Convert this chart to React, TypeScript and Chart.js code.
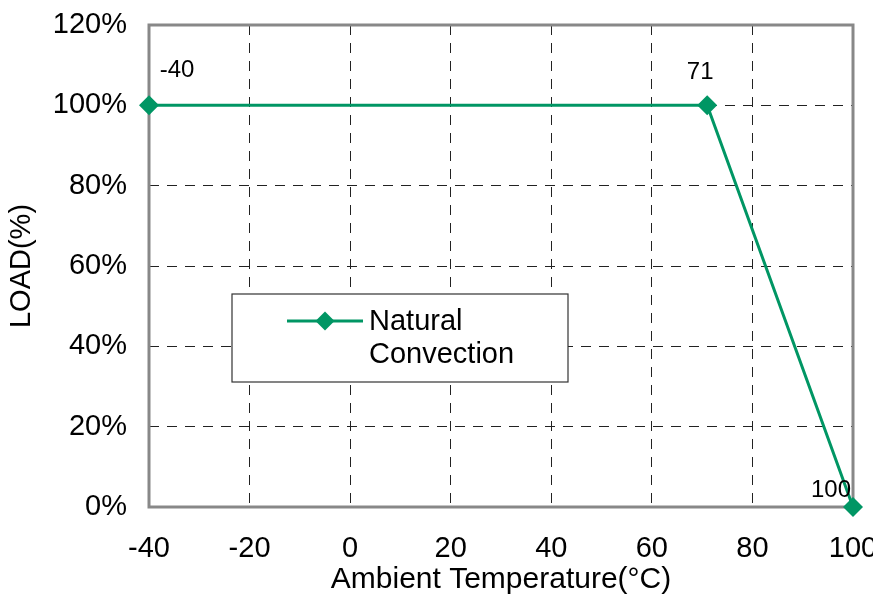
import React, { useEffect, useRef } from "react";
import { Chart, registerables } from "chart.js";

Chart.register(...registerables);

const temperatures = [-40, 71, 100];
const loads = [100, 100, 0];
const pointLabels = ["-40", "71", "100"];
const seriesName = ["Natural", "Convection"];
const xTickValues = [-40, -20, 0, 20, 40, 60, 80, 100];
const yTickValues = [0, 20, 40, 60, 80, 100, 120];

const GREEN = "#009664";
const FONT = "'Liberation Sans', Arial, sans-serif";

const labelOffsets = [
  { dx: 28, dy: -35 },
  { dx: -7, dy: -33 },
  { dx: -22, dy: -17 },
];

const framePlugin = {
  id: "frame",
  beforeDatasetsDraw(chart: any) {
    const { ctx, chartArea } = chart;
    ctx.save();
    ctx.strokeStyle = "#888888";
    ctx.lineWidth = 3;
    ctx.strokeRect(chartArea.left, chartArea.top, chartArea.right - chartArea.left, chartArea.bottom - chartArea.top);
    ctx.restore();
  },
};

const overlayPlugin = {
  id: "overlay",
  afterDatasetsDraw(chart: any) {
    const { ctx } = chart;
    const xs = chart.scales.x;
    const ys = chart.scales.y;
    ctx.save();
    ctx.font = `24px ${FONT}`;
    ctx.fillStyle = "#000";
    ctx.textAlign = "center";
    ctx.textBaseline = "middle";
    temperatures.forEach((t, i) => {
      const px = xs.getPixelForValue(t);
      const py = ys.getPixelForValue(loads[i]);
      ctx.fillText(pointLabels[i], px + labelOffsets[i].dx, py + labelOffsets[i].dy);
    });
    const bx = 232, by = 294, bw = 336, bh = 88;
    ctx.fillStyle = "#fff";
    ctx.fillRect(bx, by, bw, bh);
    ctx.strokeStyle = "#333";
    ctx.lineWidth = 1.2;
    ctx.strokeRect(bx, by, bw, bh);
    ctx.strokeStyle = GREEN;
    ctx.lineWidth = 3;
    ctx.beginPath();
    ctx.moveTo(287, 321);
    ctx.lineTo(363, 321);
    ctx.stroke();
    ctx.fillStyle = GREEN;
    ctx.beginPath();
    const r = 9.5;
    ctx.moveTo(325, 321 - r);
    ctx.lineTo(325 + r, 321);
    ctx.lineTo(325, 321 + r);
    ctx.lineTo(325 - r, 321);
    ctx.closePath();
    ctx.fill();
    ctx.fillStyle = "#000";
    ctx.font = `29px ${FONT}`;
    ctx.textAlign = "left";
    ctx.fillText(seriesName[0], 369, 322);
    ctx.fillText(seriesName[1], 369, 355);
    ctx.restore();
  },
};

export default function App() {
  const ref = useRef<HTMLCanvasElement | null>(null);
  useEffect(() => {
    document.body.style.margin = "0";
    document.body.style.overflow = "hidden";
    const chart = new Chart(ref.current!, {
      type: "line",
      data: {
        datasets: [
          {
            label: seriesName.join(" "),
            data: temperatures.map((t, i) => ({ x: t, y: loads[i] })),
            borderColor: GREEN,
            backgroundColor: GREEN,
            borderWidth: 3,
            pointStyle: "rectRot",
            pointRadius: 10,
            pointBorderWidth: 0,
            clip: false as any,
          },
        ],
      },
      options: {
        animation: false,
        responsive: false,
        events: [],
        layout: { padding: { top: 25, right: 20, left: 0, bottom: 0 } },
        plugins: { legend: { display: false }, tooltip: { enabled: false } },
        scales: {
          x: {
            type: "linear",
            min: -40,
            max: 100,
            afterBuildTicks: (s: any) => {
              s.ticks = xTickValues.map((v) => ({ value: v }));
            },
            afterFit: (s: any) => {
              s.height = 599 - 507;
              s.paddingRight = 0;
              s.paddingLeft = 0;
            },
            ticks: {
              color: "#000",
              font: { family: FONT, size: 29 },
              padding: 25,
              maxRotation: 0,
            },
            grid: { color: "#222", lineWidth: 1, drawTicks: false },
            border: { display: false, dash: [10, 8] },
            title: {
              display: true,
              text: "Ambient Temperature(°C)",
              color: "#000",
              font: { family: FONT, size: 30 },
              padding: { top: 0, bottom: 1 },
            },
          },
          y: {
            type: "linear",
            min: 0,
            max: 120,
            afterBuildTicks: (s: any) => {
              s.ticks = yTickValues.map((v) => ({ value: v }));
            },
            afterFit: (s: any) => {
              s.width = 149;
              s.paddingTop = 0;
              s.paddingBottom = 0;
            },
            ticks: {
              color: "#000",
              font: { family: FONT, size: 29 },
              padding: 22,
              callback: (v: any) => `${v}%`,
            },
            grid: { color: "#222", lineWidth: 1, drawTicks: false },
            border: { display: false, dash: [10, 8] },
            title: {
              display: true,
              text: "LOAD(%)",
              color: "#000",
              font: { family: FONT, size: 29 },
              padding: { top: 5, bottom: 0 },
            },
          },
        },
      },
      plugins: [framePlugin, overlayPlugin],
    });
    return () => chart.destroy();
  }, []);
  return (
    <canvas
      ref={ref}
      width={873}
      height={599}
      style={{ position: "absolute", left: 0, top: 0, width: 873, height: 599 }}
    />
  );
}
